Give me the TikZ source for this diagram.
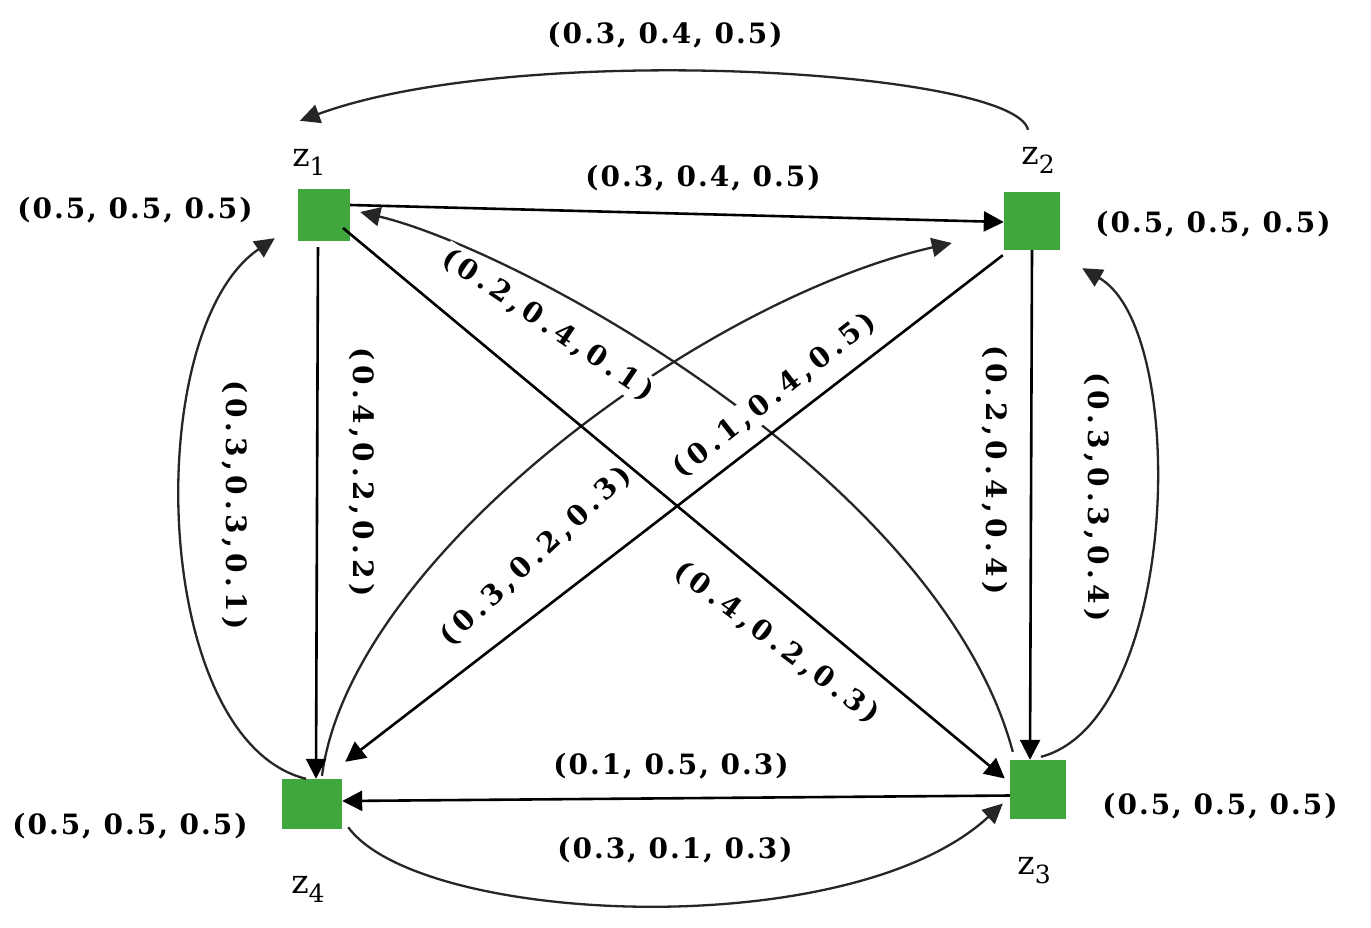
\documentclass[tikz,border=0pt]{standalone}
\usepackage{fontspec}
\setmainfont{DejaVu Serif}
\newfontfamily\labfont{DejaVu Serif}[LetterSpace=7]
\newfontfamily\labfontw{DejaVu Serif}[LetterSpace=17]
\newfontfamily\zfont{DejaVu Serif}
\usetikzlibrary{arrows.meta,calc}
\definecolor{nodegreen}{RGB}{63,167,61}
\newcommand{\zlab}[1]{{\zfont\fontsize{33}{34}\selectfont z\raisebox{-9pt}{\fontsize{25}{25}\selectfont #1}}}
\begin{document}
\begin{tikzpicture}[x=1pt,y=-1pt,
  sq/.style={fill=nodegreen,draw=none,inner sep=0pt},
  hl/.style={font=\labfont\bfseries\fontsize{28}{32}\selectfont,inner sep=1pt},
  vl/.style={font=\labfontw\bfseries\fontsize{28}{32}\selectfont,inner sep=1pt},
  wl/.style={vl,fill=white,inner sep=3pt},
  zl/.style={inner sep=0pt},
  arr/.style={line width=2.6pt,-{Triangle[length=20pt,width=20pt]}},
  carr/.style={line width=2.3pt,draw=black!85,-{Triangle[length=20pt,width=19pt]}}]
\useasboundingbox (0,0) rectangle (1371,927);
\fill[white] (0,0) rectangle (1371,927);

% nodes
\node[sq,minimum width=52pt,minimum height=52pt] (z1) at (324,215) {};
\node[sq,minimum width=56pt,minimum height=58pt] (z2) at (1032,221) {};
\node[sq,minimum width=56pt,minimum height=59pt] (z3) at (1038,789.5) {};
\node[sq,minimum width=60pt,minimum height=50pt] (z4) at (312,804) {};

\node[zl] (lz1) at (309,162) {\zlab{1}};
\node[zl] (lz2) at (1038,160) {\zlab{2}};
\node[zl] (lz3) at (1034,871) {\zlab{3}};
\node[zl] (lz4) at (308,889) {\zlab{4}};

\node[hl] (v1) at (135,210) {(0.5, 0.5, 0.5)};
\node[hl] (v2) at (1213,224) {(0.5, 0.5, 0.5)};
\node[hl] (v3) at (1220,806) {(0.5, 0.5, 0.5)};
\node[hl] (v4) at (130,826) {(0.5, 0.5, 0.5)};

% curved connectors
\draw[carr] ([xshift=-4pt,yshift=62pt]z2.north) .. controls (1015,70) and (520,40) .. ([xshift=2pt,yshift=68pt]z1.north west);
\draw[carr] ([xshift=-6pt]z4.north) .. controls (150,740) and (140,330) .. ([xshift=-23pt,yshift=3pt]z1.south west);
\draw[carr] ([xshift=3pt,yshift=3pt]z3.north) .. controls (1180,720) and (1190,330) .. ([xshift=22pt,yshift=-18pt]z2.south east);
\draw[carr] ([xshift=6pt,yshift=2pt]z4.south east) .. controls (420,925) and (850,945) .. ([xshift=-7pt,yshift=-14pt]z3.west);
\draw[carr] ([xshift=10pt,yshift=3pt]z4.north) .. controls (350,560) and (700,300) .. ([xshift=-52pt,yshift=-22pt]z2.west);
\draw[carr] ([xshift=3pt,yshift=8pt]z3.north west) .. controls (940,480) and (520,250) .. ([xshift=10pt,yshift=3pt]z1.east);

% edge labels
\node[hl] (e21t) at (665,35) {(0.3, 0.4, 0.5)};
\node[hl] (e12) at (703,178) {(0.3, 0.4, 0.5)};
\node[hl] (e34) at (671,766) {(0.1, 0.5, 0.3)};
\node[hl] (e43) at (675,850) {(0.3, 0.1, 0.3)};
\node[vl,rotate=-90] (e41) at (235,505) {(0.3,0.3,0.1)};
\node[vl,rotate=-90] (e14) at (362,472) {(0.4,0.2,0.2)};
\node[vl,rotate=-90] (e23) at (995,470) {(0.2,0.4,0.4)};
\node[vl,rotate=-90] (e32) at (1097,497) {(0.3,0.3,0.4)};
\node[wl,rotate=-34] (e31) at (548,325) {(0.2,0.4,0.1)};
\node[wl,rotate=38] (e24) at (775,395) {(0.1,0.4,0.5)};
\node[vl,rotate=43] (e42) at (536,556) {(0.3,0.2,0.3)};
\node[vl,rotate=-37] (e13) at (777,643) {(0.4,0.2,0.3)};

% straight connectors
\draw[arr] ([yshift=10pt]z1.east) -- ([yshift=-1pt]z2.west);
\draw[arr,shorten <=6pt] ([xshift=-6pt]z1.south) -- ([xshift=4pt]z4.north);
\draw[arr] ([xshift=19pt,yshift=-13pt]z1.center) -- ([xshift=-5pt,yshift=11pt]z3.west);
\draw[arr] ([xshift=-1pt,yshift=-5pt]z2.south west) -- ([xshift=3pt,yshift=17pt]z4.north east);
\draw[arr] (z2.south) -- ([xshift=-8pt]z3.north);
\draw[arr] ([yshift=-6pt]z3.west) -- ([yshift=3pt]z4.east);
\end{tikzpicture}
\end{document}
